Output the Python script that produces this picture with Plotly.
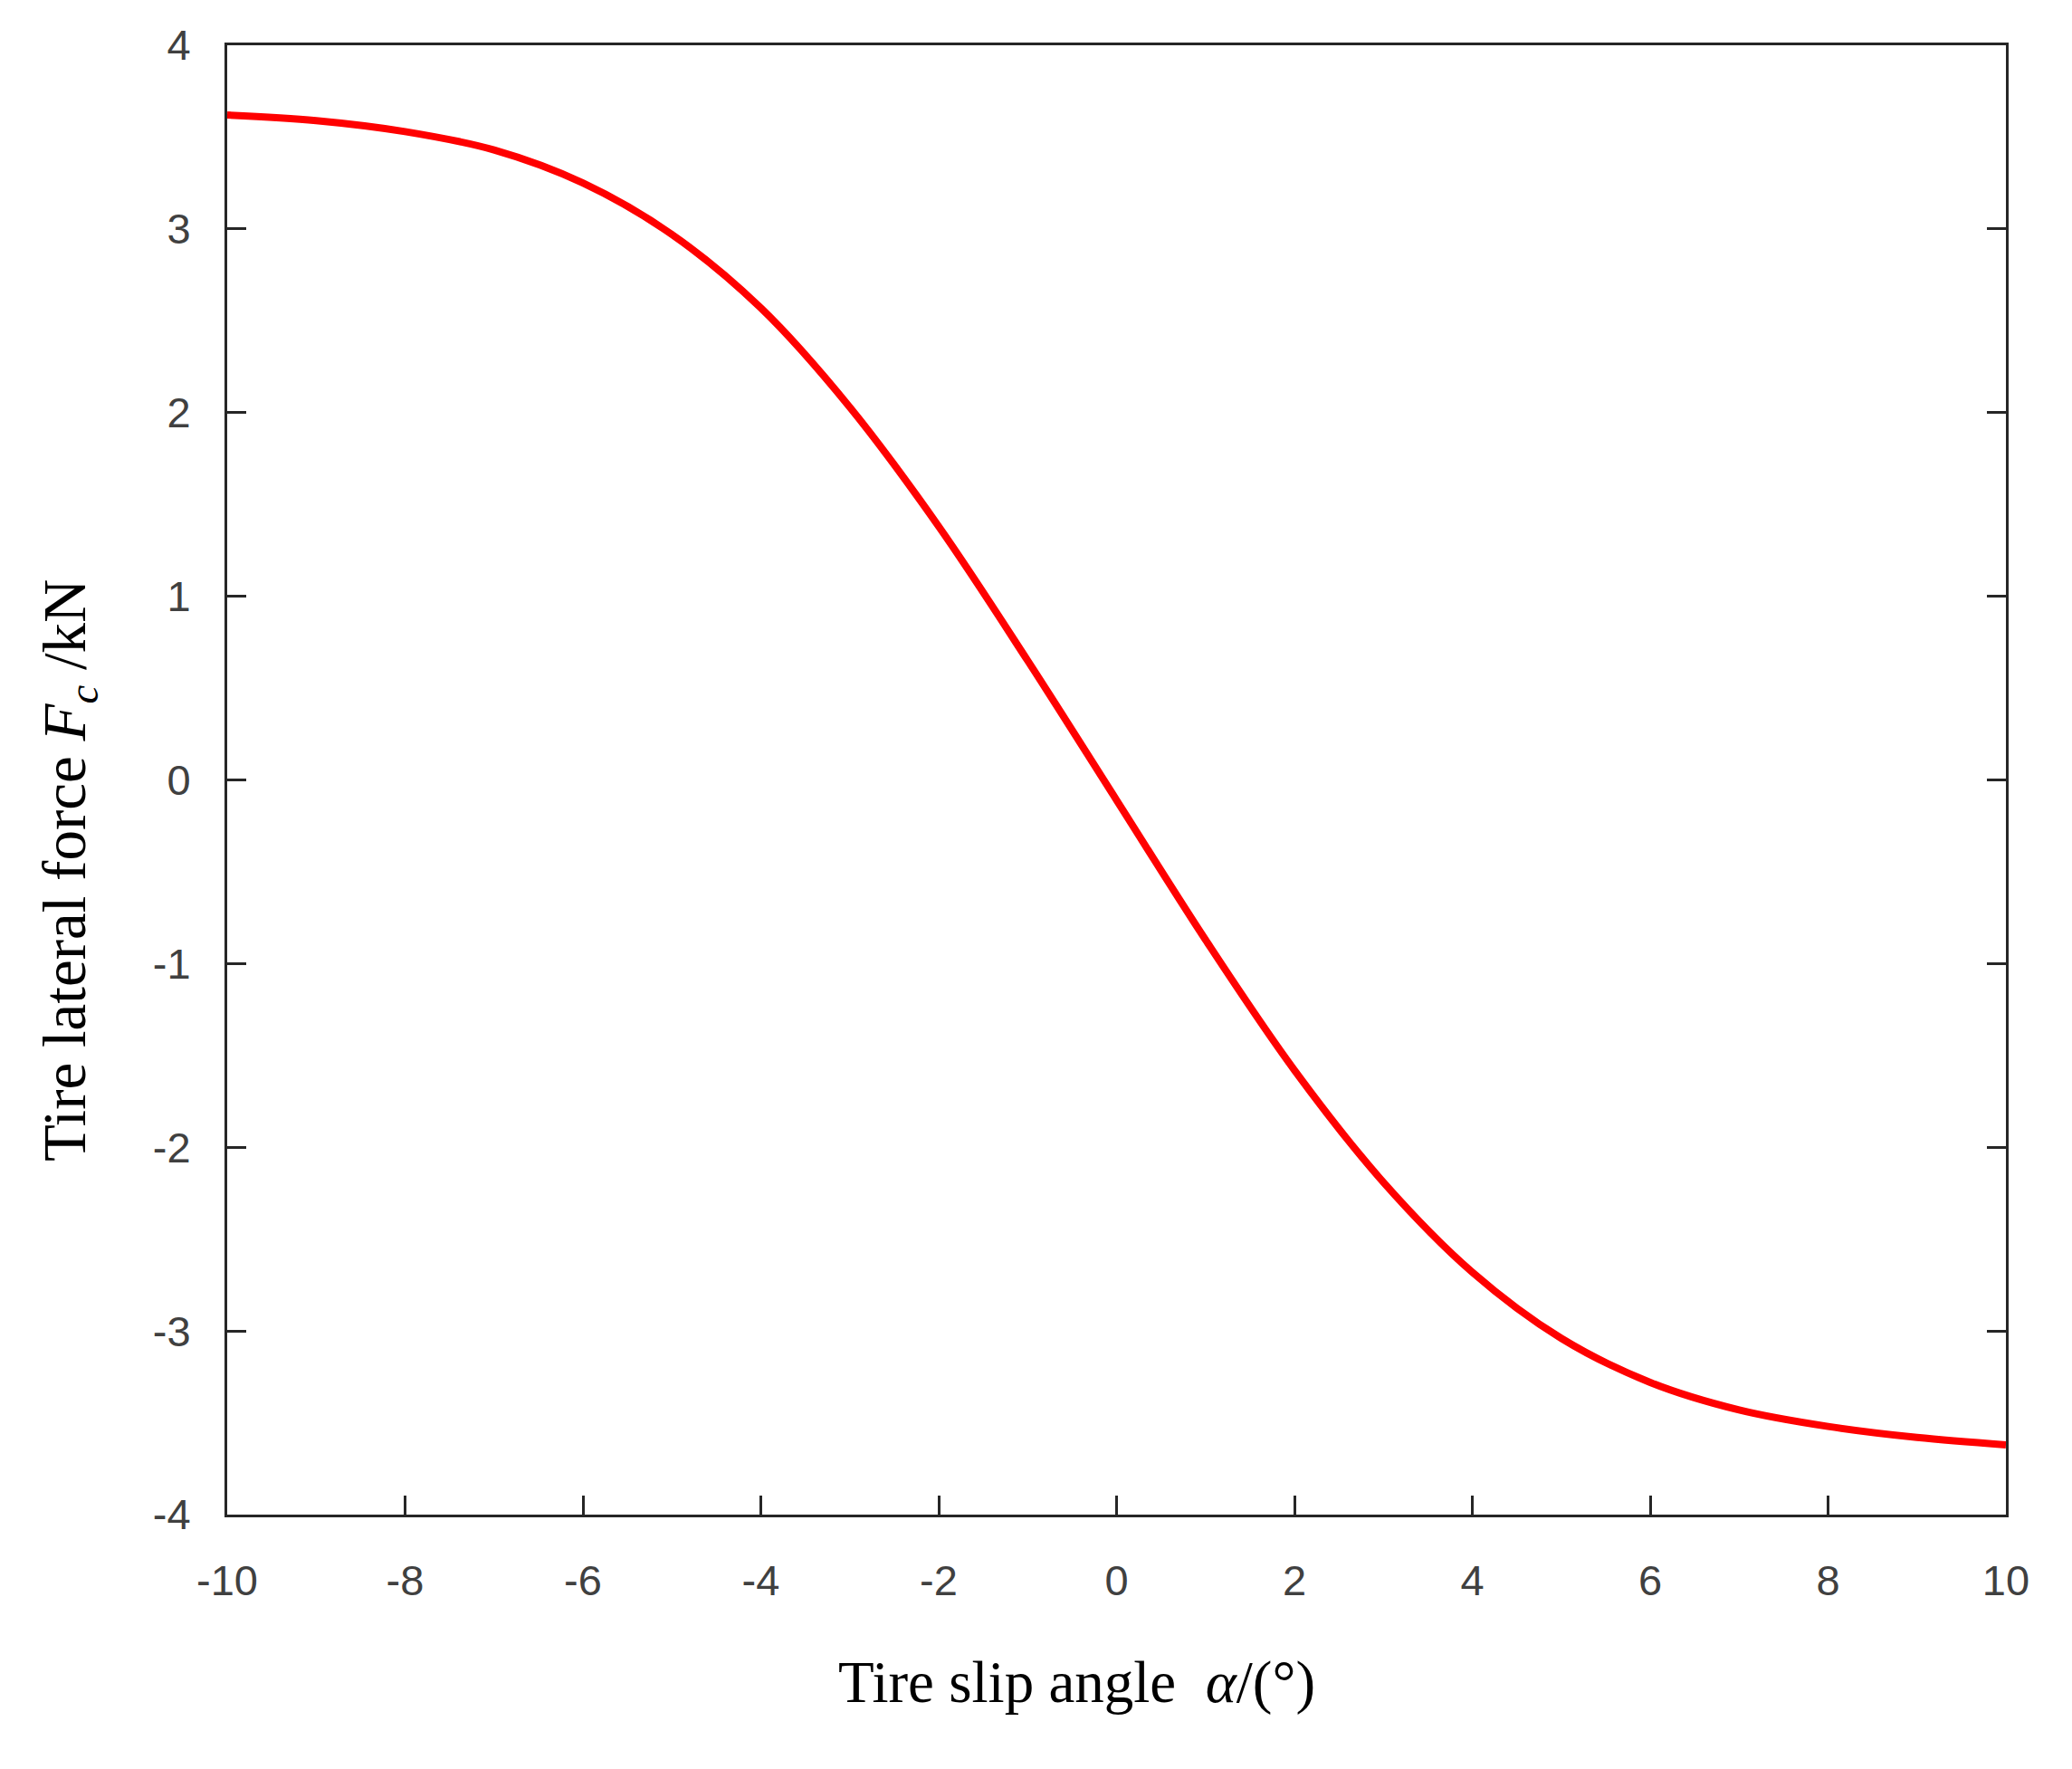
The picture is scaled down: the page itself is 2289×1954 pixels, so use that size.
import plotly.graph_objects as go

# Data
slip_angle = [-10, -9, -8, -7, -6, -5, -4, -3, -2, -1, 0, 1, 2, 3, 4, 5, 6, 7, 8, 9, 10]
lateral_force = [3.62, 3.59, 3.53, 3.43, 3.25, 2.97, 2.57, 2.03, 1.38, 0.65, -0.11,
                 -0.87, -1.58, -2.19, -2.68, -3.04, -3.28, -3.43, -3.52, -3.58, -3.62]

x_ticks = [-10, -8, -6, -4, -2, 0, 2, 4, 6, 8, 10]
y_ticks = [-4, -3, -2, -1, 0, 1, 2, 3, 4]

W, H = 2289, 1954
L, R, T, B = 251, 73, 50, 281

fig = go.Figure()
fig.add_trace(go.Scatter(
    x=slip_angle, y=lateral_force, mode="lines",
    line=dict(color="#ff0000", width=8, shape="spline", smoothing=1.0),
    showlegend=False,
))

axis_common = dict(
    showgrid=False, zeroline=False,
    showline=True, linecolor="#262626", linewidth=3,
    ticks="inside", ticklen=21, tickwidth=3, tickcolor="#262626",
    tickfont=dict(family="Liberation Sans, Arial, sans-serif", size=47, color="#404040"),
)

fig.update_xaxes(range=[-10, 10], tickvals=x_ticks, ticktext=[str(v) for v in x_ticks],
                 ticklabelstandoff=30, mirror=True, **axis_common)
fig.update_yaxes(range=[-4, 4], tickvals=y_ticks, ticktext=[str(v) for v in y_ticks],
                 ticklabelstandoff=28, mirror="ticks", **axis_common)

title_font = dict(family="Liberation Serif, Times New Roman, serif", size=65, color="#000000")

fig.add_annotation(
    text="Tire slip angle  <i>α</i>/(°)",
    xref="paper", yref="paper", x=(1189 - L) / (W - L - R), y=0,
    xanchor="center", yanchor="middle", yshift=-185,
    showarrow=False, font=title_font,
)
fig.add_annotation(
    text="Tire lateral force <i>F<sub>c</sub></i> /kN",
    xref="paper", yref="paper", x=0, y=(H - B - 962) / (H - T - B),
    xanchor="center", yanchor="middle", xshift=-175, textangle=-90,
    showarrow=False, font=dict(family=title_font["family"], size=67, color="#000000"),
)

fig.update_layout(
    width=W, height=H,
    margin=dict(l=L, r=R, t=T, b=B, pad=0),
    paper_bgcolor="white", plot_bgcolor="white",
)

fig.write_html("out.html", config={"displayModeBar": False},
               post_script="document.body.style.margin='0';")
